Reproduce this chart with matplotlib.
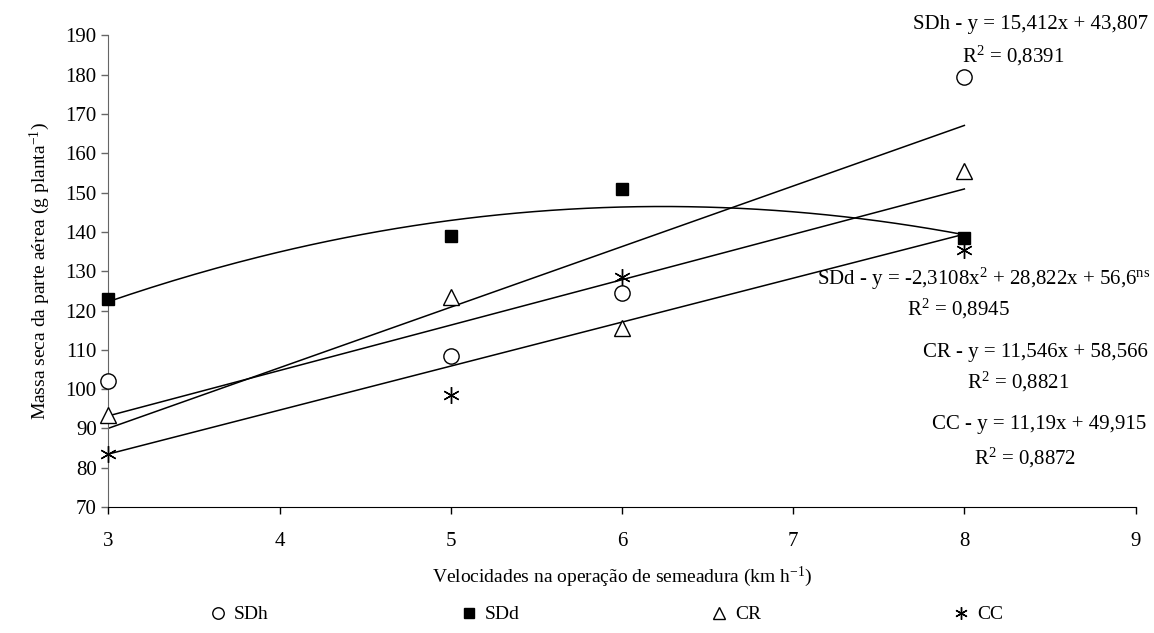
import numpy as np
import matplotlib
matplotlib.use("Agg")
import matplotlib.pyplot as plt

plt.rcParams["font.family"] = ["Liberation Serif", "DejaVu Serif"]
plt.rcParams["mathtext.fontset"] = "custom"
plt.rcParams["mathtext.rm"] = "Liberation Serif"
plt.rcParams["mathtext.it"] = "Liberation Serif:italic"

# speeds (km/h)
speeds = [3, 5, 6, 8]

# dry mass per treatment (g/plant)
sdh = [102, 108.5, 124.5, 179.5]
sdd = [123, 139, 151, 138.5]
cr = [93.5, 123.5, 115.5, 155.5]
cc = [83.5, 98.5, 128.5, 135.5]

# fitted trend coefficients (highest power first)
fit_sdh = [15.412, 43.807]
fit_sdd = [-2.3108, 28.822, 56.6]
fit_cr = [11.546, 58.566]
fit_cc = [11.19, 49.915]

fig = plt.figure(figsize=(11.54, 6.33), dpi=100)
ax = fig.add_axes([0.094, 0.199, 0.89, 0.745])

xs = np.linspace(3, 8, 200)
for coef in (fit_sdh, fit_sdd, fit_cr, fit_cc):
    ax.plot(xs, np.polyval(coef, xs), color="black", lw=1.1, zorder=2)

mk = dict(color="black", lw=0, zorder=3, clip_on=False)
ax.plot(speeds, sdh, marker="o", ms=11, mfc="white", mew=1.0, label="SDh", **mk)
ax.plot(speeds, sdd, marker="s", ms=9, mfc="black", label="SDd", **mk)
ax.plot(speeds, cr, marker="^", ms=11, mfc="white", mew=1.0, label="CR", **mk)
ax.plot(speeds, cc, marker=(6, 2, 0), ms=12, mew=1.0, label="CC", **mk)

ax.set_xlim(3, 9)
ax.set_ylim(70, 190)
ax.set_xticks(range(3, 10))
ax.set_yticks(range(70, 191, 10))
ax.tick_params(axis="both", labelsize=15, direction="out", length=5, width=1)
ax.tick_params(axis="x", pad=13)
ax.spines["top"].set_visible(False)
ax.spines["right"].set_visible(False)
ax.spines["left"].set_color("#666666")
ax.tick_params(axis="y", colors="#666666", labelcolor="black")

ax.set_xlabel("Velocidades na operação de semeadura (km h$^{-1}$)", fontsize=14, labelpad=10)
ax.set_ylabel("Massa seca da parte aérea (g planta$^{-1}$)", fontsize=14, labelpad=10)

tk = dict(transform=fig.transFigure, fontsize=15)
W, H = 1154, 633
def ftext(x, y, s, ha):
    fig.text(x / W, 1 - y / H, s, ha=ha, va="center", **tk)

ftext(1148, 24, "SDh - y = 15,412x + 43,807", "right")
ftext(1013, 56, "R$^2$ = 0,8391", "center")
ftext(1150, 279, "SDd - y = -2,3108x$^2$ + 28,822x + 56,6$^{\\rm ns}$", "right")
ftext(958, 309, "R$^2$ = 0,8945", "center")
ftext(1148, 352, "CR - y = 11,546x + 58,566", "right")
ftext(1018, 382, "R$^2$ = 0,8821", "center")
ftext(1146, 425, "CC - y = 11,19x + 49,915", "right")
ftext(1025, 458, "R$^2$ = 0,8872", "center")

leg = ax.legend(loc="center", bbox_to_anchor=(0.485, -0.228), ncol=4, frameon=False,
                fontsize=14, markerscale=0.75, handlelength=0.8, handletextpad=0.4,
                columnspacing=9.9)

fig.savefig("out.png", dpi=100)
